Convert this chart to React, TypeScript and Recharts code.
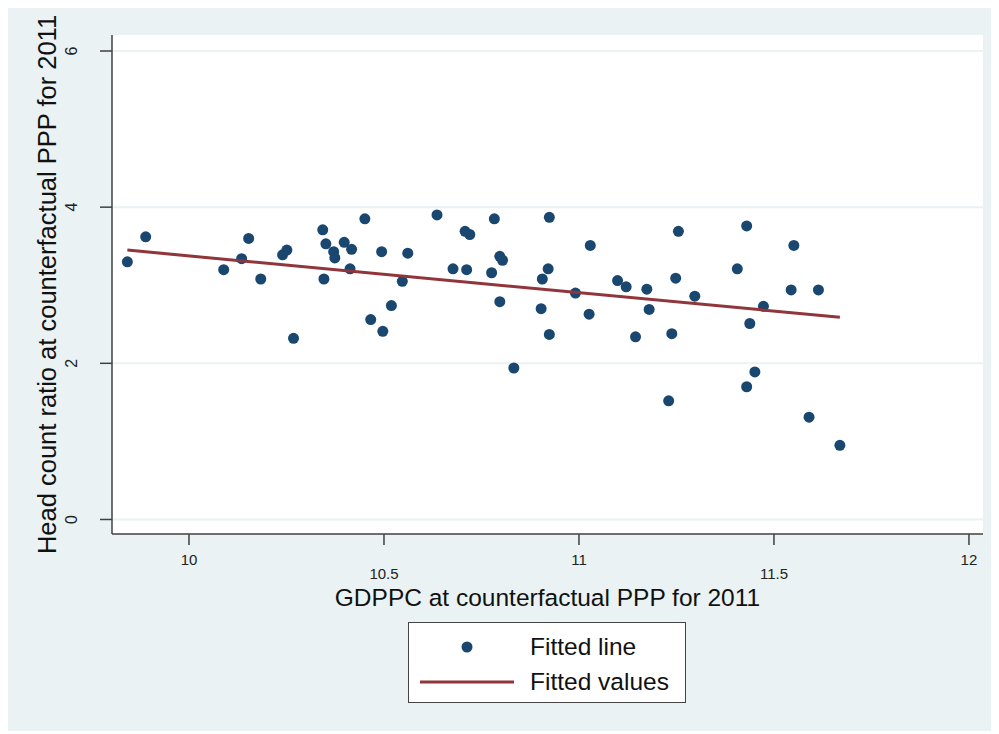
import React from 'react';
import { ComposedChart, Scatter, XAxis, YAxis, CartesianGrid } from 'recharts';

// GDPPC (log) at counterfactual PPP
const gdppc = [
  9.842, 9.889, 10.089, 10.135, 10.153, 10.184, 10.24, 10.251, 10.268, 10.343,
  10.351, 10.346, 10.371, 10.374, 10.398, 10.417, 10.413, 10.451, 10.466, 10.494,
  10.497, 10.519, 10.547, 10.561, 10.636, 10.677, 10.708, 10.72, 10.712, 10.776,
  10.783, 10.797, 10.804, 10.797, 10.833, 10.903, 10.906, 10.921, 10.924, 10.924,
  10.991, 11.026, 11.029, 11.099, 11.121, 11.145, 11.174, 11.18, 11.23, 11.238,
  11.248, 11.255, 11.297, 11.406, 11.43, 11.43, 11.438, 11.451, 11.473, 11.544,
  11.551, 11.59, 11.614, 11.669,
];

// head count ratio
const headCount = [
  3.3, 3.62, 3.2, 3.34, 3.6, 3.08, 3.39, 3.45, 2.32, 3.71,
  3.53, 3.08, 3.43, 3.35, 3.55, 3.46, 3.21, 3.85, 2.56, 3.43,
  2.41, 2.74, 3.05, 3.41, 3.9, 3.21, 3.69, 3.65, 3.2, 3.16,
  3.85, 3.37, 3.32, 2.79, 1.94, 2.7, 3.08, 3.21, 3.87, 2.37,
  2.9, 2.63, 3.51, 3.06, 2.98, 2.34, 2.95, 2.69, 1.52, 2.38,
  3.09, 3.69, 2.86, 3.21, 3.76, 1.7, 2.51, 1.89, 2.73, 2.94,
  3.51, 1.31, 2.94, 0.95,
];

// fitted line end points
const fittedX = [9.842, 11.669];
const fittedY = [3.45, 2.59];

const xTicks = [10, 10.5, 11, 11.5, 12];
const yTicks = [0, 2, 4, 6];

const NAVY = '#1a476f';
const MAROON = '#90353b';
const BG = '#eaf2f3';
const AXIS = '#404040';
const SANS = '"Liberation Sans", Arial, sans-serif';
const NARROW = '"Liberation Sans Narrow", "Liberation Sans", Arial, sans-serif';

const points = gdppc.map((x, i) => ({ x, y: headCount[i] }));
const fitted = fittedX.map((x, i) => ({ x, y: fittedY[i] }));

const Dot = (props: any) => <circle cx={props.cx} cy={props.cy} r={5.5} fill={NAVY} />;

// stata staggers the half-unit labels below the others
const XTick = ({ x, payload }: any) => {
  const alt = payload.value === 10.5 || payload.value === 11.5;
  return (
    <text x={x} y={alt ? 571 : 557} textAnchor="middle" fontFamily={NARROW} fontSize={15} fill="#222">
      {payload.value}
    </text>
  );
};

const YTick = ({ y, payload }: any) => (
  <text x={69} y={y} transform={`rotate(-90, 69, ${y})`} textAnchor="middle" fontFamily={NARROW} fontSize={16} fill="#222">
    {payload.value}
  </text>
);

export default function App() {
  return (
    <div style={{ position: 'relative', width: 988, height: 723, background: BG }}>
      <ComposedChart width={988} height={723} margin={{ top: 27, right: 13, left: 0, bottom: 0 }}>
        <CartesianGrid vertical={false} horizontalValues={yTicks} stroke={BG} strokeWidth={2} fill="#ffffff" />
        <XAxis
          type="number"
          dataKey="x"
          domain={[9.8026, 12.036]}
          ticks={xTicks}
          allowDataOverflow
          height={197}
          tickSize={11}
          stroke={AXIS}
          strokeWidth={1.5}
          tick={<XTick />}
          label={({ viewBox }: any) => (
            <text x={viewBox.x + viewBox.width / 2} y={598} textAnchor="middle" fontFamily={SANS} fontSize={24.5} fill="#111">
              GDPPC at counterfactual PPP for 2011
            </text>
          )}
        />
        <YAxis
          type="number"
          dataKey="y"
          domain={[-0.186, 6.205]}
          ticks={yTicks}
          allowDataOverflow
          width={104}
          tickSize={12}
          stroke={AXIS}
          strokeWidth={1.5}
          tick={<YTick />}
          label={({ viewBox }: any) => {
            const cy = viewBox.y + viewBox.height / 2;
            return (
              <text x={48} y={cy} transform={`rotate(-90, 48, ${cy})`} textAnchor="middle" fontFamily={SANS} fontSize={25.5} fill="#111">
                Head count ratio at counterfactual PPP for 2011
              </text>
            );
          }}
        />
        <Scatter data={points} shape={<Dot />} isAnimationActive={false} />
        <Scatter
          data={fitted}
          line={{ stroke: MAROON, strokeWidth: 3 }}
          shape={() => <g />}
          isAnimationActive={false}
        />
      </ComposedChart>
      <div
        style={{
          position: 'absolute',
          left: 400,
          top: 614,
          width: 276,
          height: 79,
          background: '#fff',
          border: '1.5px solid #444',
          fontFamily: SANS,
          fontSize: 24.5,
          color: '#111',
        }}
      >
        <svg width={120} height={79} style={{ position: 'absolute', left: 0, top: 0 }}>
          <circle cx={58} cy={24} r={5.5} fill={NAVY} />
          <line x1={11} x2={105} y1={59} y2={59} stroke={MAROON} strokeWidth={3} />
        </svg>
        <div style={{ position: 'absolute', left: 121, top: 10, lineHeight: '28px' }}>Fitted line</div>
        <div style={{ position: 'absolute', left: 121, top: 45, lineHeight: '28px' }}>Fitted values</div>
      </div>
    </div>
  );
}
